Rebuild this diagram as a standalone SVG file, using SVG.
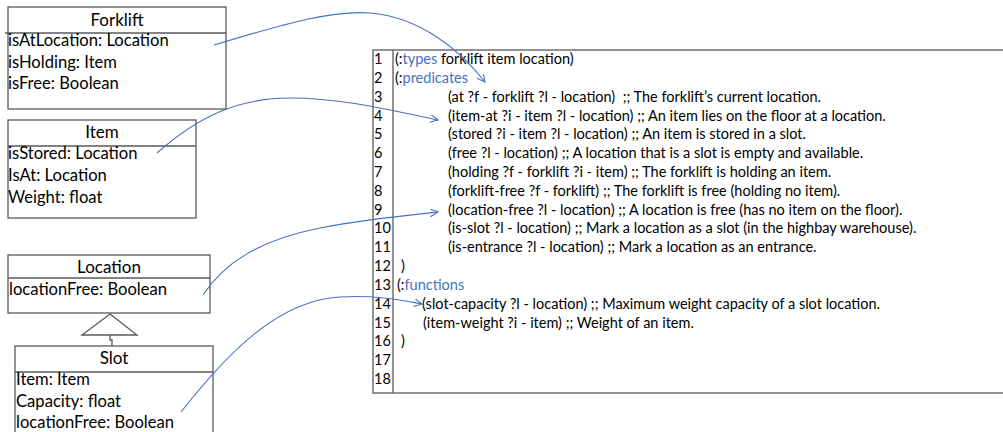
<svg xmlns="http://www.w3.org/2000/svg" width="1003" height="432" viewBox="0 0 1003 432">
<style>
.box{fill:#fff;stroke:#595959;stroke-width:1.3}
.ln{stroke:#595959;stroke-width:1.3;fill:none}
.t{font-family:Lato,"Liberation Sans",sans-serif;fill:#000}
.title{font-size:17px;text-anchor:middle}
.attr{font-size:16.6px}
.code{font-size:14.5px}
.kw{fill:#4472C4}
.conn{fill:none;stroke:#4472C4;stroke-width:1.1}
</style>
<defs>
<marker id="arr" markerWidth="10" markerHeight="10" refX="8" refY="4" orient="auto" markerUnits="userSpaceOnUse">
<path d="M0,0 L8,4 L0,8" fill="none" stroke="#4472C4" stroke-width="1.1"/>
</marker>
</defs>
<rect width="1003" height="432" fill="#fff"/>

<g id="forklift">
<rect class="box" x="8" y="7" width="218" height="102"/>
<line class="ln" x1="5" y1="33" x2="226" y2="33"/>
<text class="t title" x="117" y="26">Forklift</text>
<text class="t attr" x="8" y="46">isAtLocation: Location</text>
<text class="t attr" x="8" y="68">isHolding: Item</text>
<text class="t attr" x="8" y="89">isFree: Boolean</text>
</g>

<g id="item">
<rect class="box" x="8" y="120" width="188" height="98"/>
<line class="ln" x1="8" y1="146" x2="196" y2="146"/>
<text class="t title" x="102" y="138">Item</text>
<text class="t attr" x="8" y="159">isStored: Location</text>
<text class="t attr" x="8" y="181">IsAt: Location</text>
<text class="t attr" x="8" y="203">Weight: float</text>
</g>

<g id="location">
<rect class="box" x="8" y="255" width="202" height="58"/>
<line class="ln" x1="8" y1="278" x2="210" y2="278"/>
<text class="t title" x="109" y="273">Location</text>
<text class="t attr" x="9" y="295">locationFree: Boolean</text>
</g>

<g id="generalization">
<path class="ln" d="M110,314 L137,335 L82,335 Z"/>
<path class="ln" d="M110,335 L110,340 L112,340 L112,346"/>
</g>

<g id="slot">
<rect class="box" x="15" y="346" width="198" height="100"/>
<line class="ln" x1="15" y1="372" x2="213" y2="372"/>
<text class="t title" x="114" y="364">Slot</text>
<text class="t attr" x="16" y="385">Item: Item</text>
<text class="t attr" x="16" y="407">Capacity: float</text>
<text class="t attr" x="16" y="428">locationFree: Boolean</text>
</g>

<g id="code">
<rect class="box" x="373" y="50" width="650" height="343"/>
<line class="ln" x1="393" y1="50" x2="393" y2="393"/>
<g class="t code">
<text x="374" y="64">1</text>
<text x="374" y="82.8">2</text>
<text x="374" y="101.6">3</text>
<text x="374" y="120.5">4</text>
<text x="374" y="139.3">5</text>
<text x="374" y="158.1">6</text>
<text x="374" y="176.9">7</text>
<text x="374" y="195.7">8</text>
<text x="374" y="214.6">9</text>
<text x="374" y="233.4">10</text>
<text x="374" y="252.2">11</text>
<text x="374" y="271">12</text>
<text x="374" y="289.8">13</text>
<text x="374" y="308.7">14</text>
<text x="374" y="327.5">15</text>
<text x="374" y="346.3">16</text>
<text x="374" y="365.1">17</text>
<text x="374" y="383.9">18</text>

<text x="395" y="64">(:<tspan class="kw">types</tspan> forklift item location)</text>
<text x="395" y="82.8">(:<tspan class="kw">predicates</tspan></text>
<text x="448" y="101.6" xml:space="preserve">(at ?f - forklift ?l - location)  ;; The forklift’s current location.</text>
<text x="448" y="120.5">(item-at ?i - item ?l - location) ;; An item lies on the floor at a location.</text>
<text x="448" y="139.3">(stored ?i - item ?l - location) ;; An item is stored in a slot.</text>
<text x="448" y="158.1">(free ?l - location) ;; A location that is a slot is empty and available.</text>
<text x="448" y="176.9">(holding ?f - forklift ?i - item) ;; The forklift is holding an item.</text>
<text x="448" y="195.7">(forklift-free ?f - forklift) ;; The forklift is free (holding no item).</text>
<text x="448" y="214.6">(location-free ?l - location) ;; A location is free (has no item on the floor).</text>
<text x="448" y="233.4">(is-slot ?l - location) ;; Mark a location as a slot (in the highbay warehouse).</text>
<text x="448" y="252.2">(is-entrance ?l - location) ;; Mark a location as an entrance.</text>
<text x="401" y="271">)</text>
<text x="397" y="289.8">(:<tspan class="kw">functions</tspan></text>
<text x="422" y="308.7">(slot-capacity ?l - location) ;; Maximum weight capacity of a slot location.</text>
<text x="423" y="327.5">(item-weight ?i - item) ;; Weight of an item.</text>
<text x="401" y="346.3">)</text>
</g>
</g>

<g id="connectors">
<path class="conn" marker-end="url(#arr)" d="M214,45 C290,22 335,10 370,13 C420,17 460,50 485,82"/>
<path class="conn" marker-end="url(#arr)" d="M157,153 C200,115 240,98 290,98 C340,98 390,110 438,120"/>
<path class="conn" marker-end="url(#arr)" d="M203,295 C225,262 260,240 320,228 C360,220 400,216 438,212"/>
<path class="conn" marker-end="url(#arr)" d="M181,412 C230,350 280,300 340,297 C375,295 400,300 422,304"/>
</g>
</svg>
